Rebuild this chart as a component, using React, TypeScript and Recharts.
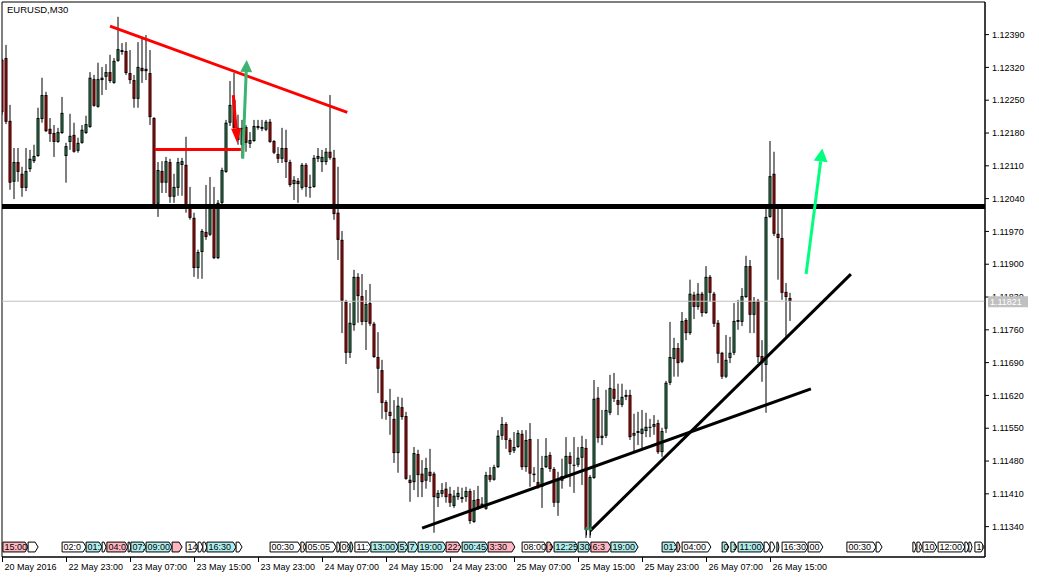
import React from 'react';
import { ComposedChart, Bar, XAxis, YAxis, ReferenceLine, ReferenceArea, ReferenceDot } from 'recharts';

const FONT = '"Liberation Sans", Arial, sans-serif';
const GREEN = '#2fa163';
const RED = '#ff0000';

const opens = [
  1.12336, 1.1234, 1.12206, 1.12076, 1.12118, 1.12093, 1.12063, 1.12103, 1.1212, 1.12131,
  1.1221, 1.12261, 1.12189, 1.1218, 1.12161, 1.1218, 1.12131, 1.12161, 1.12176, 1.12142,
  1.12159, 1.1218, 1.12193, 1.12295, 1.12236, 1.12293, 1.123, 1.1231, 1.12287, 1.12334,
  1.12357, 1.12355, 1.12308, 1.12293, 1.12253, 1.12319, 1.12317, 1.12308, 1.12212, 1.12029,
  1.12099, 1.12074, 1.12118, 1.12044, 1.12063, 1.12112, 1.12112, 1.1202, 1.11999, 1.11892,
  1.11926, 1.11969, 1.11963, 1.12027, 1.11913, 1.12031, 1.12097, 1.12202, 1.12251, 1.12191,
  1.12155, 1.12193, 1.12157, 1.12163, 1.12191, 1.12193, 1.12187, 1.12204, 1.12163, 1.12135,
  1.12125, 1.12148, 1.12118, 1.12071, 1.12078, 1.12063, 1.12112, 1.12063, 1.12065, 1.12125,
  1.12118, 1.12118, 1.1214, 1.12127, 1.1201, 1.11952, 1.1182, 1.11711, 1.1177, 1.11873,
  1.11832, 1.11777, 1.11817, 1.11773, 1.11702, 1.11674, 1.11606, 1.11585, 1.1157, 1.11497,
  1.11595, 1.11576, 1.1144, 1.11435, 1.11495, 1.11453, 1.11438, 1.11457, 1.11453, 1.11401,
  1.1141, 1.11421, 1.1141, 1.11384, 1.11403, 1.11399, 1.11403, 1.11416, 1.1135, 1.11399,
  1.11382, 1.11378, 1.1145, 1.1144, 1.11467, 1.11534, 1.11559, 1.11525, 1.11502, 1.1151,
  1.11538, 1.11467, 1.11527, 1.1145, 1.11435, 1.11425, 1.11467, 1.11493, 1.11463, 1.11391,
  1.11438, 1.11448, 1.11491, 1.1147, 1.11472, 1.11487, 1.11508, 1.11333, 1.11444, 1.11615,
  1.11529, 1.11534, 1.11583, 1.11634, 1.1161, 1.116, 1.11617, 1.11621, 1.11534, 1.1154,
  1.11538, 1.11544, 1.11551, 1.11553, 1.11561, 1.11499, 1.11549, 1.11647, 1.11698, 1.11721,
  1.11692, 1.11781, 1.11753, 1.11835, 1.11809, 1.11837, 1.11796, 1.11873, 1.11837, 1.11775,
  1.11711, 1.1166, 1.117, 1.11711, 1.11781, 1.11777, 1.1183, 1.11896, 1.11792, 1.11822,
  1.11704, 1.11685, 1.12001, 1.12093, 1.11965, 1.11956, 1.11841, 1.11828,
];

const highs = [
  1.12338, 1.12368, 1.1224, 1.12148, 1.12148, 1.12108, 1.12148, 1.12144, 1.12155, 1.12234,
  1.12298, 1.12268, 1.12212, 1.12197, 1.12191, 1.12257, 1.12159, 1.12221, 1.12202, 1.1217,
  1.12197, 1.12217, 1.1231, 1.12304, 1.1233, 1.12321, 1.12327, 1.12347, 1.1234, 1.12428,
  1.12372, 1.12374, 1.12357, 1.12304, 1.12374, 1.12383, 1.12389, 1.12357, 1.12214, 1.12118,
  1.1212, 1.12129, 1.12125, 1.12093, 1.12127, 1.12127, 1.12172, 1.12065, 1.1201, 1.11931,
  1.11975, 1.12069, 1.12086, 1.12065, 1.12037, 1.12106, 1.12208, 1.12291, 1.12308, 1.12219,
  1.12208, 1.12197, 1.12182, 1.12208, 1.12208, 1.12208, 1.12208, 1.1221, 1.12165, 1.1215,
  1.12191, 1.12187, 1.12123, 1.12088, 1.12084, 1.12116, 1.12116, 1.12091, 1.12133, 1.12148,
  1.12144, 1.12148, 1.12261, 1.12144, 1.12108, 1.11971, 1.11824, 1.11817, 1.11888, 1.11881,
  1.11879, 1.11845, 1.11858, 1.11777, 1.11755, 1.11696, 1.1161, 1.11634, 1.1161, 1.11617,
  1.11615, 1.11585, 1.1145, 1.1151, 1.11504, 1.11482, 1.11487, 1.11506, 1.11457, 1.11418,
  1.11433, 1.11435, 1.11425, 1.11418, 1.11425, 1.11423, 1.11425, 1.11421, 1.11418, 1.11427,
  1.11403, 1.11457, 1.11467, 1.11472, 1.11546, 1.11574, 1.11563, 1.11529, 1.11542, 1.11546,
  1.11546, 1.11546, 1.11561, 1.11467, 1.11527, 1.11491, 1.11529, 1.11499, 1.11467, 1.11457,
  1.11485, 1.11531, 1.11499, 1.11531, 1.1151, 1.11534, 1.11527, 1.1145, 1.11653, 1.11638,
  1.11589, 1.11632, 1.11664, 1.11668, 1.11645, 1.11645, 1.11632, 1.11632, 1.11581, 1.11585,
  1.11589, 1.11583, 1.1157, 1.11578, 1.11568, 1.11551, 1.11651, 1.11777, 1.11743, 1.11732,
  1.11798, 1.11785, 1.11867, 1.11841, 1.1186, 1.11841, 1.11896, 1.11877, 1.11841, 1.11781,
  1.11713, 1.11749, 1.11745, 1.11817, 1.11824, 1.11849, 1.11918, 1.11909, 1.1183, 1.11826,
  1.11738, 1.12027, 1.12163, 1.1214, 1.1202, 1.1202, 1.1186, 1.11839,
];

const lows = [
  1.12219, 1.12199, 1.12059, 1.12039, 1.12076, 1.12044, 1.12056, 1.12097, 1.12116, 1.12129,
  1.12202, 1.12182, 1.12161, 1.12129, 1.12159, 1.12178, 1.12074, 1.12144, 1.12138, 1.12138,
  1.12157, 1.12178, 1.12191, 1.12236, 1.12234, 1.12261, 1.12272, 1.12287, 1.12285, 1.12332,
  1.12347, 1.12304, 1.12285, 1.12234, 1.12234, 1.12287, 1.12293, 1.12197, 1.1202, 1.12001,
  1.12052, 1.12052, 1.12031, 1.12031, 1.12046, 1.12046, 1.1201, 1.11995, 1.11873, 1.11869,
  1.11869, 1.11952, 1.1196, 1.11911, 1.11911, 1.12024, 1.12095, 1.12195, 1.12182, 1.12155,
  1.12127, 1.1214, 1.12148, 1.12161, 1.12187, 1.12184, 1.12184, 1.12159, 1.12135, 1.12116,
  1.12116, 1.12084, 1.12065, 1.12037, 1.12031, 1.12059, 1.12044, 1.12042, 1.12063, 1.12118,
  1.12097, 1.12112, 1.12123, 1.11995, 1.11909, 1.11753, 1.11687, 1.117, 1.11758, 1.11775,
  1.1177, 1.11717, 1.11768, 1.117, 1.11625, 1.1157, 1.11568, 1.11536, 1.11476, 1.11455,
  1.11568, 1.1144, 1.11393, 1.11418, 1.11403, 1.11403, 1.11421, 1.11435, 1.11327, 1.11382,
  1.11403, 1.11391, 1.11382, 1.1138, 1.11397, 1.11391, 1.11393, 1.11346, 1.11348, 1.11376,
  1.1138, 1.11376, 1.11435, 1.11438, 1.11465, 1.11525, 1.11506, 1.11493, 1.11497, 1.11508,
  1.11461, 1.11457, 1.11425, 1.11435, 1.11421, 1.1138, 1.11465, 1.11457, 1.11382, 1.11363,
  1.11421, 1.11444, 1.11425, 1.11412, 1.11467, 1.11429, 1.11316, 1.11316, 1.11442, 1.11519,
  1.11514, 1.11529, 1.11578, 1.11606, 1.11578, 1.11595, 1.1161, 1.11525, 1.11499, 1.11514,
  1.11504, 1.11531, 1.11531, 1.11536, 1.11495, 1.11489, 1.1154, 1.11642, 1.1166, 1.1166,
  1.11689, 1.11738, 1.11749, 1.11783, 1.11803, 1.11788, 1.11794, 1.1182, 1.11766, 1.11689,
  1.11655, 1.11657, 1.11689, 1.11706, 1.1176, 1.11768, 1.11828, 1.11753, 1.11753, 1.11689,
  1.11649, 1.11583, 1.11999, 1.1196, 1.11867, 1.11824, 1.11743, 1.11779,
];

const closes = [
  1.12225, 1.12204, 1.12074, 1.12118, 1.12097, 1.12063, 1.12099, 1.12125, 1.12131, 1.12212,
  1.12261, 1.12184, 1.12178, 1.12161, 1.12182, 1.12223, 1.12152, 1.12174, 1.1214, 1.12159,
  1.12187, 1.12199, 1.12298, 1.12238, 1.12295, 1.12298, 1.1231, 1.12291, 1.12334, 1.12359,
  1.12353, 1.12308, 1.12293, 1.12253, 1.12321, 1.12312, 1.12312, 1.12214, 1.12024, 1.12101,
  1.12074, 1.1212, 1.12044, 1.12065, 1.12118, 1.1212, 1.12018, 1.11999, 1.11892, 1.11926,
  1.11971, 1.11958, 1.1202, 1.11913, 1.12031, 1.12101, 1.12202, 1.1224, 1.12191, 1.12165,
  1.12191, 1.12159, 1.12165, 1.12195, 1.12195, 1.12189, 1.12204, 1.12161, 1.12138, 1.12125,
  1.12148, 1.12118, 1.12069, 1.1208, 1.12071, 1.12112, 1.12065, 1.12065, 1.12127, 1.12131,
  1.12129, 1.1214, 1.12127, 1.12007, 1.11952, 1.11822, 1.11711, 1.11775, 1.11873, 1.11832,
  1.11777, 1.11815, 1.11773, 1.11702, 1.11677, 1.11604, 1.11585, 1.11576, 1.11497, 1.11598,
  1.11574, 1.11442, 1.11433, 1.11497, 1.1145, 1.11435, 1.11465, 1.11448, 1.11403, 1.11412,
  1.11418, 1.11403, 1.11391, 1.11406, 1.11412, 1.11403, 1.11416, 1.11352, 1.11397, 1.11382,
  1.11389, 1.1145, 1.1144, 1.11467, 1.11534, 1.11559, 1.11525, 1.11499, 1.1151, 1.1154,
  1.11467, 1.11525, 1.11453, 1.11453, 1.11425, 1.11465, 1.11491, 1.11463, 1.11391, 1.1144,
  1.11448, 1.11491, 1.11474, 1.11472, 1.11487, 1.1151, 1.11333, 1.11446, 1.11613, 1.11529,
  1.11534, 1.11589, 1.11636, 1.11613, 1.116, 1.11617, 1.11621, 1.11531, 1.1154, 1.11544,
  1.11549, 1.11553, 1.11553, 1.11559, 1.11499, 1.11544, 1.11647, 1.11702, 1.11721, 1.11689,
  1.11779, 1.11753, 1.11837, 1.11809, 1.11837, 1.11796, 1.11873, 1.11839, 1.11773, 1.11709,
  1.1166, 1.11696, 1.11711, 1.11779, 1.11777, 1.11832, 1.11896, 1.11792, 1.1182, 1.11702,
  1.11689, 1.12001, 1.12088, 1.11965, 1.11956, 1.11839, 1.1183, 1.11821,
];

const timeTickIndex = [0, 16, 32, 48, 64, 80, 96, 112, 128, 144, 160, 176, 192];
const timeTickLabels = [
  '20 May 2016', '22 May 23:00', '23 May 07:00', '23 May 15:00', '23 May 23:00', '24 May 07:00',
  '24 May 15:00', '24 May 23:00', '25 May 07:00', '25 May 15:00', '25 May 23:00', '26 May 07:00', '26 May 15:00',
];
const priceTicks = [
  1.1239, 1.1232, 1.1225, 1.1218, 1.1211, 1.1204, 1.1197, 1.119, 1.1183, 1.1176, 1.1169, 1.1162,
  1.1155, 1.1148, 1.1141, 1.1134,
];

const supportLevel = 1.12023;
const lastPrice = 1.11821;
// segments: [barIndex1, price1, barIndex2, price2]
const redTrendLine = [26.875, 1.12408, 86.2, 1.12224];
const redLevelLine = [38.1, 1.12145, 59.6, 1.12145];
const lowerTrendLine = [104.9, 1.11337, 202.1, 1.11634];
const steepTrendLine = [146.9, 1.11331, 212.1, 1.11879];
const greenArrow = [60.05, 1.12125, 61.05, 1.12336];
const redArrow = [57.7, 1.12261, 58.7, 1.12158];
const springArrow = [200.9, 1.11879, 204.95, 1.12147];
// small buy-marks near the low
const buyMarkIndex = [146, 147];
const buyMarkPrice = [1.1133, 1.1133];

// calendar events strip (bar index start/end)
const eventStart = [0.1, 6.4, 14.9, 20.9, 24.9, 26.1, 31.4, 32.1, 35.9, 42.4, 45.9, 48.9, 50.1, 51.1, 58.4, 66.9, 74.6, 75.9, 83.6, 84.4, 86.9, 88.1, 92.1, 98.9, 101.4, 103.9, 110.9, 114.9, 121.4, 129.9, 136.1, 137.9, 143.9, 147.1, 152.1, 164.9, 168.6, 169.9, 179.9, 182.1, 183.9, 190.4, 191.9, 193.6, 194.9, 201.4, 211.1, 218.4, 227.6, 228.6, 230.1, 233.9, 240.6, 241.6, 243.1];
const eventEnd = [6.4, 8.9, 20.9, 24.9, 25.9, 31.4, 32.1, 35.9, 42.4, 44.9, 48.9, 50.1, 51.1, 58.4, 59.9, 74.6, 75.9, 83.4, 84.4, 86.9, 87.6, 92.1, 98.9, 101.4, 103.9, 110.9, 114.6, 121.4, 128.1, 136.1, 137.6, 143.9, 147.1, 152.1, 158.9, 168.6, 169.4, 177.1, 181.6, 183.6, 190.4, 191.9, 193.1, 194.1, 201.4, 205.1, 218.4, 219.9, 228.4, 229.9, 233.6, 240.6, 241.6, 242.4, 245.4];
const eventText = ['15:00', '', '02:0', '01:', '', '04:0', '', '07:', '09:00', '', '14', '', '', '16:30', '', '00:30', '0', '05:05', '', '09', '', '11:', '13:00', '5:5', '7', '19:00', '22:', '00:45', '3:30', '08:00', '1', '12:25', '30', '6:3', '19:00', '01:', '', '04:00', '0', '1', '11:00', '', '', '', '16:30', '00', '00:30', '', '', '0', '10:', '12:00', '', '', '16'];
const eventKind = ['p', 'w', 'w', 'c', 'w', 'p', 'w', 'c', 'c', 'p', 'w', 'w', 'w', 'c', 'w', 'w', 'w', 'w', 'w', 'w', 'c', 'w', 'c', 'c', 'c', 'c', 'p', 'c', 'p', 'w', 'p', 'c', 'c', 'p', 'c', 'c', 'p', 'w', 'c', 'c', 'c', 'w', 'w', 'c', 'w', 'w', 'w', 'w', 'w', 'w', 'w', 'w', 'w', 'w', 'w'];
const EVENT_LOW = 1.11286;
const EVENT_HIGH = 1.11307;

const X_MIN = -0.125;
const X_MAX = 245.625;
const Y_MIN = 1.112752;
const Y_MAX = 1.124596;

const data = opens.map((o, i) => ({ i, open: o, high: highs[i], low: lows[i], close: closes[i] }));

const Candle = (props: any) => {
  const { x, y, width, height, payload } = props;
  if (x == null || !payload) return null;
  const { open, close, high, low } = payload;
  const cx = x + width / 2;
  const range = high - low;
  const k = range > 0 ? height / range : 0;
  const yOf = (p: number) => y + (high - p) * k;
  const top = yOf(Math.max(open, close));
  const bot = yOf(Math.min(open, close));
  const bodyH = Math.max(bot - top, 1);
  const up = close >= open;
  return (
    <g>
      <line x1={cx} x2={cx} y1={y} y2={y + height} stroke="#000" strokeWidth={1} />
      <rect x={cx - 1.5} y={top} width={3} height={bodyH} fill="#000" />
      {bodyH > 2 && (
        <rect x={cx - 0.5} y={top + 1} width={1} height={bodyH - 2} fill={up ? GREEN : RED} />
      )}
    </g>
  );
};

const makeArrow = (color: string, w: number, headLen: number, headHalf: number) => (props: any) => {
  const { x1, y1, x2, y2 } = props;
  const dx = x2 - x1;
  const dy = y2 - y1;
  const len = Math.hypot(dx, dy) || 1;
  const ux = dx / len;
  const uy = dy / len;
  const bx = x2 - ux * headLen;
  const by = y2 - uy * headLen;
  const px = -uy;
  const py = ux;
  return (
    <g>
      <line x1={x1} y1={y1} x2={bx} y2={by} stroke={color} strokeWidth={w} />
      <polygon
        points={`${x2},${y2} ${bx + px * headHalf},${by + py * headHalf} ${bx - px * headHalf},${by - py * headHalf}`}
        fill={color}
      />
    </g>
  );
};

const kindFill: Record<string, string> = { p: '#ffb6c1', c: '#afeeee', w: '#ffffff' };

const makeEventBox = (fill: string, text: string) => (props: any) => {
  const { x, y, width, height } = props;
  if (x == null) return null;
  const tip = Math.min(3, width / 2);
  const pts = `${x},${y} ${x + width - tip},${y} ${x + width},${y + height / 2} ${x + width - tip},${y + height} ${x},${y + height}`;
  return (
    <g>
      <polygon points={pts} fill={fill} stroke="#000" strokeWidth={1} />
      {text && (
        <svg x={x} y={y} width={Math.max(width - 1, 0)} height={height}>
          <text x={1.5} y={height - 1.8} fontSize={9} fontFamily={FONT} fill="#000">
            {text}
          </text>
        </svg>
      )}
    </g>
  );
};

const BuyMark = (props: any) => {
  const { cx, cy } = props;
  if (cx == null || cy == null) return null;
  return (
    <g>
      <line x1={cx} x2={cx} y1={cy - 2} y2={cy + 4} stroke="#000" strokeWidth={1} />
      <polygon points={`${cx},${cy - 5} ${cx - 2},${cy - 1} ${cx + 2},${cy - 1}`} fill="#2e8b57" />
    </g>
  );
};

const TimeTick = (props: any) => {
  const { x, y, payload } = props;
  const idx = timeTickIndex.indexOf(payload.value);
  return (
    <text x={x + 2} y={y + 7.5} fontSize={9} fontFamily={FONT} fill="#000" textAnchor="start">
      {idx >= 0 ? timeTickLabels[idx] : ''}
    </text>
  );
};

// current-price tag placed at the right edge of the plot, on the price axis
const PriceTagShape = (props: any) => {
  const { cx, cy } = props;
  if (cx == null || cy == null) return null;
  return (
    <g>
      <rect x={cx + 3} y={cy - 5} width={40} height={11} fill="#c0c0c0" />
      <text x={cx + 5} y={cy + 4} fontSize={9} fontFamily={FONT} fill="#fff">
        {lastPrice.toFixed(5)}
      </text>
    </g>
  );
};

const seg = (s: number[]) => [
  { x: s[0], y: s[1] },
  { x: s[2], y: s[3] },
];

export default function App() {
  return (
    <div style={{ position: 'absolute', left: 0, top: 0, width: 1039, height: 578, background: '#fff' }}>
      <ComposedChart
        width={1039}
        height={578}
        data={data}
        margin={{ top: 2, right: 0, bottom: 0, left: 2 }}
      >
        <XAxis
          dataKey="i"
          type="number"
          domain={[X_MIN, X_MAX]}
          allowDataOverflow
          ticks={timeTickIndex}
          interval={0}
          height={21}
          tickSize={5}
          tickMargin={0}
          axisLine={{ stroke: '#000' }}
          tickLine={{ stroke: '#000' }}
          tick={<TimeTick />}
        />
        <YAxis
          orientation="right"
          type="number"
          domain={[Y_MIN, Y_MAX]}
          allowDataOverflow
          ticks={priceTicks}
          interval={0}
          width={54}
          tickSize={4}
          tickMargin={3}
          axisLine={{ stroke: '#000' }}
          tickLine={{ stroke: '#000' }}
          tick={{ fontSize: 9, fill: '#000', fontFamily: FONT }}
          tickFormatter={(v: number) => v.toFixed(5)}
        />
        <ReferenceArea
          x1={X_MIN}
          x2={X_MAX}
          y1={Y_MIN}
          y2={Y_MAX}
          fill="none"
          stroke="#000"
          strokeWidth={1}
          fillOpacity={0}
          ifOverflow="visible"
        />
        <ReferenceLine y={lastPrice} stroke="#c0c0c0" strokeWidth={1} />
        <Bar
          dataKey={(d: any) => [d.low, d.high]}
          shape={Candle}
          barSize={3}
          isAnimationActive={false}
        />
        <ReferenceLine y={supportLevel} stroke="#000" strokeWidth={5} />
        <ReferenceLine segment={seg(redTrendLine)} stroke={RED} strokeWidth={3} ifOverflow="visible" />
        <ReferenceLine segment={seg(redLevelLine)} stroke={RED} strokeWidth={3} ifOverflow="visible" />
        <ReferenceLine segment={seg(lowerTrendLine)} stroke="#000" strokeWidth={3} ifOverflow="visible" />
        <ReferenceLine segment={seg(steepTrendLine)} stroke="#000" strokeWidth={3} ifOverflow="visible" />
        <ReferenceLine segment={seg(redArrow)} ifOverflow="visible" shape={makeArrow(RED, 3, 15, 5)} />
        <ReferenceLine segment={seg(greenArrow)} ifOverflow="visible" shape={makeArrow('#3cb371', 3, 12, 6)} />
        <ReferenceLine segment={seg(springArrow)} ifOverflow="visible" shape={makeArrow('#00ff7f', 3, 13, 7)} />
        {eventStart.map((s, k) => (
          <ReferenceArea
            key={`ev${k}`}
            x1={s}
            x2={eventEnd[k]}
            y1={EVENT_LOW}
            y2={EVENT_HIGH}
            ifOverflow="visible"
            shape={makeEventBox(kindFill[eventKind[k]], eventText[k])}
          />
        ))}
        {buyMarkIndex.map((bx, k) => (
          <ReferenceDot key={`bm${k}`} x={bx} y={buyMarkPrice[k]} r={0} ifOverflow="visible" shape={BuyMark} />
        ))}
        <ReferenceDot
          x={X_MAX}
          y={lastPrice}
          r={0}
          ifOverflow="visible"
          zIndex={5000}
          shape={PriceTagShape}
        />
      </ComposedChart>
      <svg
        width={200}
        height={20}
        style={{ position: 'absolute', left: 0, top: 0, pointerEvents: 'none' }}
      >
        <text x={7} y={13} fontSize={9.5} fontFamily={FONT} fill="#000">
          EURUSD,M30
        </text>
      </svg>
    </div>
  );
}
